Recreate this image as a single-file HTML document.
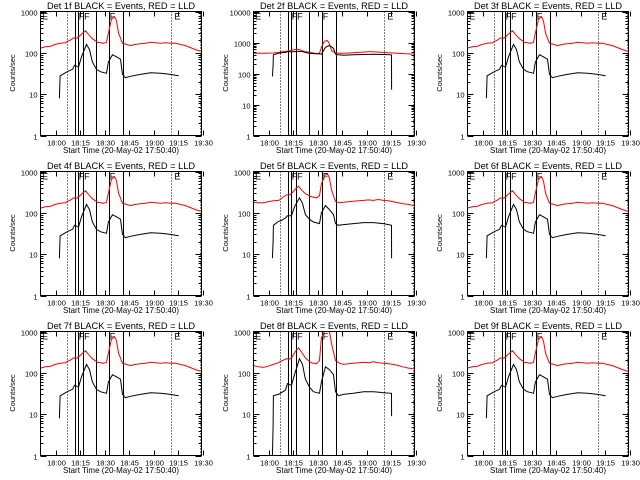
<!DOCTYPE html>
<html><head><meta charset="utf-8"><style>
body{margin:0;background:#fff;}
svg{display:block;font-family:"Liberation Sans",sans-serif;}
</style></head><body>
<svg id="c" width="640" height="480" viewBox="0 0 640 480"></svg>
<script>
// time in minutes after 17:50:40
const tickLabels = ["18:00","18:15","18:30","18:45","19:00","19:15","19:30"];
const tickMinutes = [9.33,24.33,39.33,54.33,69.33,84.33,99.33];
const redT_A = [0,3,6.1,9,12.2,15.3,16.5,18,20.2,22,23.3,25.7,27.6,29.4,31.8,34.9,36.7,38.6,40.4,41.6,43.5,45.3,46.5,47.8,50.2,52.7,55.1,58.2,61.2,64.3,67.4,70.4,73.5,76.5,79.6,82.7,85.5,88.8,91.5,94.9,98];
const red_A  = [130,140,145,160,170,175,190,200,230,225,240,300,340,280,220,180,175,170,180,300,650,750,600,300,170,160,150,160,165,170,180,175,170,175,170,170,160,150,135,120,110];
const red_B  = [180,175,175,185,195,200,210,240,270,275,290,380,440,360,290,250,240,230,260,500,800,880,700,350,190,175,180,185,190,195,200,205,200,210,200,195,185,175,165,160,150];
const red_C  = [150,140,135,145,160,175,190,200,220,215,230,330,400,320,230,180,170,165,200,700,1300,1300,1200,500,200,170,160,165,170,175,180,175,185,175,170,165,160,150,140,130,125];
const red_D  = [450,450,450,455,460,480,490,500,520,530,560,600,600,560,500,480,460,440,450,700,1100,1150,900,550,460,450,450,460,470,480,490,500,500,490,480,470,460,450,440,430,420];
const blkT_A = [11.6,12.0,12.2,15.3,17,19.6,20.8,23.3,25.1,28.2,30,31.8,34.3,36.7,40.4,41.6,44.1,46.5,49,50.2,52,55.1,61.2,67.4,73.5,79.6,84.5,84.6];
const blk_A  = [8,28,28,33,36,40,50,45,80,160,120,60,40,35,32,60,90,80,70,30,25,27,30,33,32,30,28,28];
const blk_B  = [8,20,50,62,65,75,85,85,140,230,170,90,70,60,55,100,150,120,90,55,50,52,55,58,58,55,50,8];
const blk_C  = [1,5,28,30,33,38,55,50,90,220,160,70,45,35,32,60,140,120,90,35,28,30,32,35,35,33,32,9];
const blk_D  = [80,180,400,450,470,480,500,500,510,520,510,480,450,440,430,420,700,800,650,420,400,390,400,410,420,410,400,30];
const vDotted = [16.5,80.2,97.5];
const vSolid = [21,22.8,26.1,34.1,41.8,50.4];
const fMarks = [22.8,26.1,41.8];
const eMarks = [1,82];
const panels = [
 {n:"1",rt:red_A,bk:blk_A,ymax:1000},{n:"2",rt:red_D,bk:blk_D,ymax:10000},{n:"3",rt:red_A,bk:blk_A,ymax:1000},
 {n:"4",rt:red_A,bk:blk_A,ymax:1000},{n:"5",rt:red_B,bk:blk_B,ymax:1000},{n:"6",rt:red_A,bk:blk_A,ymax:1000},
 {n:"7",rt:red_A,bk:blk_A,ymax:1000},{n:"8",rt:red_C,bk:blk_C,ymax:1000},{n:"9",rt:red_A,bk:blk_A,ymax:1000}
];
const NS="http://www.w3.org/2000/svg";
const svg=document.getElementById('c');
function mk(tag,attrs,parent){const e=document.createElementNS(NS,tag);for(const k in attrs)e.setAttribute(k,attrs[k]);parent.appendChild(e);return e;}
panels.forEach((p,i)=>{
  const ox=Math.round((i%3)*213.33), oy=Math.floor(i/3)*160;
  const L=ox+40.5,R=ox+201.5,T=oy+11.5,B=oy+135.5,TMAX=98.6;
  const dec=Math.round(Math.log10(p.ymax));
  const xs=m=>L+(m/TMAX)*(R-L);
  const ys=v=>B-(Math.log10(Math.max(Math.min(v,p.ymax),1))/dec)*(B-T);
  const g=mk('g',{},svg);
  
  
  const t=mk('text',{x:ox+121,y:oy+9,'font-size':9,'text-anchor':'middle',textLength:148,lengthAdjust:'spacingAndGlyphs'},g);
  t.textContent='Det '+p.n+'f BLACK = Events, RED = LLD';
  
  
  const xl=mk('text',{x:ox+121,y:oy+153,'font-size':8.5,'text-anchor':'middle',textLength:116,lengthAdjust:'spacingAndGlyphs'},g);
  xl.textContent='Start Time (20-May-02 17:50:40)';
  
  
  const yl=mk('text',{x:0,y:0,'font-size':7.5,'text-anchor':'middle',transform:`translate(${ox+15},${oy+73}) rotate(-90)`},g);
  yl.textContent='Counts/sec';
  
  
  tickMinutes.forEach((m,k)=>{
    const x=Math.round(xs(m))+0.5;
    mk('line',{x1:x,x2:x,y1:B,y2:B-5,stroke:'#000'},g);
    mk('line',{x1:x,x2:x,y1:T,y2:T+5,stroke:'#000'},g);
    const tl=mk('text',{x:x,y:B+10,'font-size':7.5,'text-anchor':'middle'},g);
    tl.textContent=tickLabels[k];
    
    
  });
  for(let d=0;d<=dec;d++){
    const v=Math.pow(10,d),y=Math.round(ys(v))+0.5;
    mk('line',{x1:L,x2:L+6,y1:y,y2:y,stroke:'#000'},g);
    mk('line',{x1:R,x2:R-6,y1:y,y2:y,stroke:'#000'},g);
    const yt=mk('text',{x:L-3,y:y+3,'font-size':7.5,'text-anchor':'end'},g);
    yt.textContent=String(v);
    
    
    if(d<dec)for(let j=2;j<10;j++){const yy=Math.round(ys(v*j))+0.5;
      mk('line',{x1:L,x2:L+3,y1:yy,y2:yy,stroke:'#000'},g);
      mk('line',{x1:R,x2:R-3,y1:yy,y2:yy,stroke:'#000'},g);}
  }
  vDotted.forEach(m=>{const x=Math.round(xs(m))+0.5;const l=mk('line',{x1:x,x2:x,y1:T,y2:B,stroke:'#000','stroke-dasharray':'1,2'},g);
    });
  vSolid.forEach(m=>{const x=Math.round(xs(m))+0.5;const l=mk('line',{x1:x,x2:x,y1:T,y2:B,stroke:'#000'},g);
    });
  fMarks.forEach(m=>{const f=mk('text',{x:xs(m)+1,y:T+8,'font-size':9},g);f.textContent='F';
    });
  eMarks.forEach(m=>{const e=mk('text',{x:xs(m),y:T+8,'font-size':9},g);e.textContent='E';
    });
  function line(ts,vs){return ts.map((m,k)=>(k?'L':'M')+xs(m).toFixed(1)+','+ys(vs[k]).toFixed(1)).join('');}
  const rp=mk('path',{d:line(redT_A,p.rt),fill:'none',stroke:'#ff0000','stroke-width':1},g);
  
  const bp=mk('path',{d:line(blkT_A,p.bk),fill:'none',stroke:'#000','stroke-width':1},g);
  
  const fr=mk('rect',{x:L,y:T,width:R-L,height:B-T,fill:'none',stroke:'#000'},g);
  
});
</script>
</body></html>
